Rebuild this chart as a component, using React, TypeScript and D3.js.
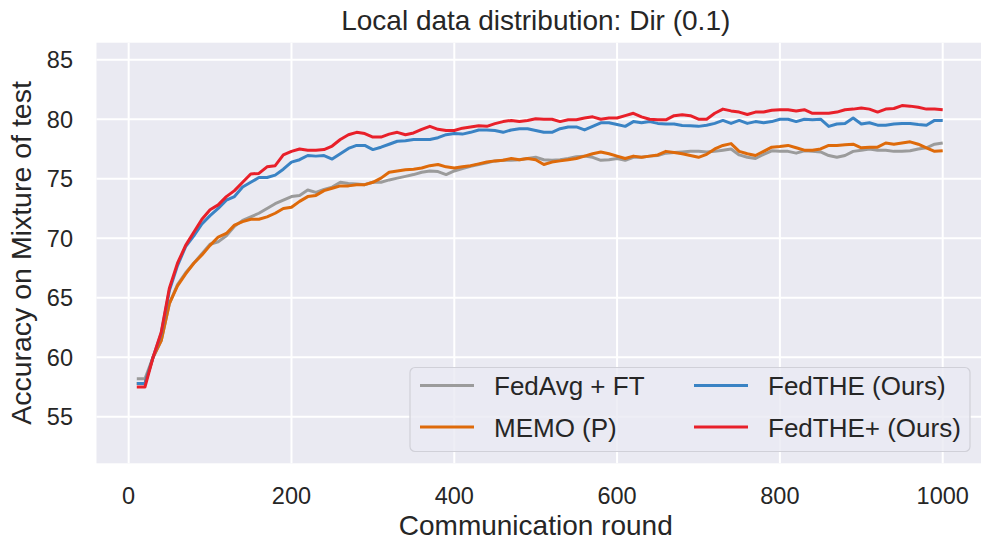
import React from "react";
import * as d3 from "d3";

const rounds: number[] = d3.range(10, 1001, 10);

const fedAvgFT: number[] = [
  58.2, 58.2, 60.0, 61.4, 64.5, 66.1, 67.1, 67.9, 68.7, 69.5,
  69.7, 70.2, 71.0, 71.5, 71.8, 72.1, 72.5, 72.9, 73.2, 73.5,
  73.6, 74.05, 73.85, 74.1, 74.3, 74.7, 74.6, 74.55, 74.5, 74.7,
  74.7, 74.9, 75.05, 75.2, 75.35, 75.55, 75.65, 75.6, 75.35, 75.65,
  75.85, 76.05, 76.2, 76.35, 76.5, 76.55, 76.55, 76.6, 76.7, 76.8,
  76.6, 76.55, 76.6, 76.7, 76.85, 76.9, 76.8, 76.55, 76.6, 76.7,
  76.55, 76.8, 76.8, 76.9, 76.95, 77.15, 77.2, 77.25, 77.3, 77.3,
  77.25, 77.3, 77.4, 77.5, 77.0, 76.8, 76.7, 77.05, 77.35, 77.3,
  77.3, 77.15, 77.35, 77.3, 77.25, 76.95, 76.8, 76.95, 77.3, 77.4,
  77.5, 77.4, 77.4, 77.3, 77.3, 77.35, 77.5, 77.6, 77.9, 78.0,
];

const memoP: number[] = [
  57.8, 57.8, 60.0, 61.4, 64.5, 66.0, 67.0, 67.9, 68.6, 69.4,
  70.1, 70.4, 71.1, 71.4, 71.6, 71.6, 71.8, 72.1, 72.5, 72.6,
  73.1, 73.5, 73.6, 74.0, 74.2, 74.4, 74.4, 74.5, 74.5, 74.7,
  75.05, 75.55, 75.65, 75.75, 75.8, 75.9, 76.1, 76.2, 76.0, 75.9,
  76.0, 76.1, 76.25, 76.4, 76.5, 76.55, 76.7, 76.6, 76.7, 76.6,
  76.2, 76.4, 76.5, 76.6, 76.7, 76.9, 77.1, 77.24, 77.1, 76.9,
  76.7, 76.9, 76.8, 76.9, 77.0, 77.3, 77.2, 77.1, 76.95, 76.8,
  77.05, 77.5, 77.8, 77.95, 77.3, 77.1, 76.95, 77.3, 77.65, 77.7,
  77.8, 77.6, 77.4, 77.4, 77.5, 77.8, 77.8, 77.85, 77.9, 77.6,
  77.65, 77.65, 78.0, 77.9, 78.0, 78.1, 77.9, 77.6, 77.3, 77.35,
];

const fedTHE: number[] = [
  57.8, 57.8, 60.0, 62.0, 65.6, 67.7, 69.3, 70.2, 71.2, 71.9,
  72.5, 73.2, 73.5, 74.3, 74.7, 75.1, 75.1, 75.3, 75.8, 76.4,
  76.6, 76.95, 76.9, 76.95, 76.65, 77.1, 77.55, 77.8, 77.8, 77.45,
  77.65, 77.9, 78.15, 78.2, 78.3, 78.3, 78.3, 78.45, 78.7, 78.8,
  78.75, 78.9, 79.1, 79.1, 79.05, 78.9, 79.1, 79.2, 79.2, 79.05,
  78.9, 78.9, 79.2, 79.35, 79.35, 79.1, 79.4, 79.7, 79.7, 79.55,
  79.4, 79.8, 79.7, 79.8, 79.65, 79.6, 79.6, 79.48, 79.45, 79.4,
  79.5, 79.65, 79.9, 79.65, 79.9, 79.65, 79.8, 79.7, 79.8, 80.0,
  80.0, 79.8, 80.0, 79.95, 80.0, 79.4, 79.6, 79.65, 80.1, 79.6,
  79.7, 79.5, 79.5, 79.6, 79.65, 79.65, 79.55, 79.5, 79.9, 79.9,
];

const fedTHEPlus: number[] = [
  57.5, 57.5, 60.0, 62.1, 65.8, 67.9, 69.4, 70.5, 71.6, 72.4,
  72.8, 73.5, 74.0, 74.7, 75.4, 75.45, 76.0, 76.1, 77.0, 77.3,
  77.5, 77.4, 77.4, 77.45, 77.75, 78.3, 78.7, 78.9, 78.8, 78.5,
  78.5, 78.75, 78.9, 78.7, 78.85, 79.15, 79.4, 79.15, 79.05, 79.05,
  79.25, 79.35, 79.45, 79.4, 79.63, 79.8, 79.9, 79.8, 79.9, 80.04,
  80.0, 80.0, 79.8, 79.95, 79.95, 80.1, 80.2, 80.0, 80.1, 80.1,
  80.3, 80.5, 80.2, 80.0, 79.95, 79.95, 80.3, 80.38, 80.3, 80.0,
  80.0, 80.5, 80.85, 80.7, 80.6, 80.4, 80.6, 80.6, 80.75, 80.8,
  80.8, 80.7, 80.8, 80.5, 80.5, 80.5, 80.6, 80.8, 80.85, 80.95,
  80.85, 80.6, 80.85, 80.9, 81.15, 81.1, 81.0, 80.85, 80.85, 80.8,
];

const seriesNames: string[] = ["FedAvg + FT", "MEMO (P)", "FedTHE (Ours)", "FedTHE+ (Ours)"];
const seriesValues: number[][] = [fedAvgFT, memoP, fedTHE, fedTHEPlus];
const seriesColors: string[] = ["#9b9b9b", "#de6a0a", "#3a83c4", "#e8202a"];

const xTicks: number[] = [0, 200, 400, 600, 800, 1000];
const yTicks: number[] = [55, 60, 65, 70, 75, 80, 85];

const title = "Local data distribution: Dir (0.1)";
const xLabel = "Communication round";
const yLabel = "Accuracy on Mixture of test";

const W = 981;
const H = 540;
const plotLeft = 96.5;
const plotRight = 983;
const plotTop = 42.7;
const plotBottom = 463.3;
const FONT = "'Liberation Sans', Arial, sans-serif";

export default function App() {
  const x = d3.scaleLinear().domain([-39.5, 1049.5]).range([plotLeft, plotRight]);
  const y = d3.scaleLinear().domain([51.09, 86.43]).range([plotBottom, plotTop]);

  const line = d3
    .line<[number, number]>()
    .x((d) => x(d[0]))
    .y((d) => y(d[1]));

  const legendLeft = 410;
  const legendTop = 367.5;
  const legendW = 560;
  const legendH = 84;
  const rowYs = [385.5, 427];
  const colXs = [420, 694];
  const handleLen = 54;
  const textGap = 20;
  const legendItems = seriesNames.map((name, i) => ({
    name,
    color: seriesColors[i],
    col: Math.floor(i / 2),
    row: i % 2,
  }));

  return (
    <svg
      width={W}
      height={H}
      style={{ position: "absolute", left: 0, top: 0, background: "#ffffff" }}
      fontFamily={FONT}
    >
      <defs>
        <clipPath id="plotclip">
          <rect x={plotLeft} y={plotTop} width={plotRight - plotLeft} height={plotBottom - plotTop} />
        </clipPath>
      </defs>
      <rect x={plotLeft} y={plotTop} width={plotRight - plotLeft} height={plotBottom - plotTop} fill="#eaeaf2" />
      {xTicks.map((t) => (
        <line key={"gx" + t} x1={x(t)} x2={x(t)} y1={plotTop} y2={plotBottom} stroke="#ffffff" strokeWidth={2} />
      ))}
      {yTicks.map((t) => (
        <line key={"gy" + t} x1={plotLeft} x2={plotRight} y1={y(t)} y2={y(t)} stroke="#ffffff" strokeWidth={2} />
      ))}
      <g clipPath="url(#plotclip)">
        {seriesValues.map((vals, i) => (
          <path
            key={"s" + i}
            d={line(rounds.map((r, j) => [r, vals[j]] as [number, number])) || ""}
            fill="none"
            stroke={seriesColors[i]}
            strokeWidth={3}
            strokeLinejoin="round"
            strokeLinecap="butt"
          />
        ))}
      </g>
      {xTicks.map((t) => (
        <text key={"tx" + t} x={x(t)} y={503.5} textAnchor="middle" fontSize={23.5} fill="#262626">
          {t}
        </text>
      ))}
      {yTicks.map((t) => (
        <text key={"ty" + t} x={73} y={y(t) + 8.3} textAnchor="end" fontSize={23.5} fill="#262626">
          {t}
        </text>
      ))}
      <text x={(plotLeft + 975) / 2} y={29.5} textAnchor="middle" fontSize={28} fill="#262626">
        {title}
      </text>
      <text x={(plotLeft + 975) / 2} y={535} textAnchor="middle" fontSize={28} fill="#262626">
        {xLabel}
      </text>
      <text
        transform={`translate(31,${(plotTop + plotBottom) / 2}) rotate(-90)`}
        textAnchor="middle"
        fontSize={28.5}
        fill="#262626"
      >
        {yLabel}
      </text>
      <rect
        x={legendLeft}
        y={legendTop}
        width={legendW}
        height={legendH}
        rx={5}
        ry={5}
        fill="#eaeaf2"
        fillOpacity={0.8}
        stroke="#d0d0d8"
        strokeWidth={1.2}
      />
      {legendItems.map((it) => (
        <g key={"l" + it.name}>
          <line
            x1={colXs[it.col]}
            x2={colXs[it.col] + handleLen}
            y1={rowYs[it.row]}
            y2={rowYs[it.row]}
            stroke={it.color}
            strokeWidth={3}
          />
          <text
            x={colXs[it.col] + handleLen + textGap}
            y={rowYs[it.row] + 9.5}
            fontSize={26}
            fill="#262626"
          >
            {it.name}
          </text>
        </g>
      ))}
    </svg>
  );
}
